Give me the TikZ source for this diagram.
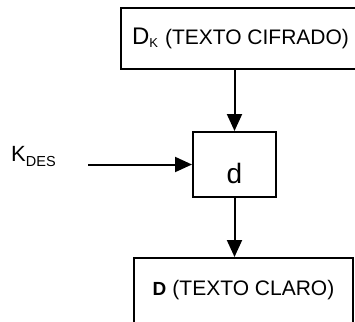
\documentclass[tikz,border=0pt]{standalone}
\usepackage{fontspec}
\setmainfont{Liberation Sans}
\usetikzlibrary{arrows.meta}
\tikzset{
  boxstyle/.style={draw, line width=2pt, inner sep=0pt, align=center},
  flowarrow/.style={line width=2pt, -{Triangle[length=17pt,width=15pt]}}
}
\begin{document}
\begin{tikzpicture}[x=1pt,y=-1pt]
\clip (0,0) rectangle (355,321);
\useasboundingbox (0,0) rectangle (355,321);
\node[boxstyle, minimum width=239pt, minimum height=61pt] (dk) at (240.5,38.5)
  {{\fontsize{24}{24}\selectfont D}\raisebox{-3pt}{\fontsize{13}{13}\selectfont K}\hspace{7pt}{\fontsize{21}{21}\selectfont (TEXTO CIFRADO)}};
\node[boxstyle, minimum width=83pt, minimum height=65pt] (d) at (234.5,164.5)
  {\raisebox{-18.5pt}[0pt][0pt]{\fontsize{28}{28}\selectfont d}};
\node[boxstyle, minimum width=219pt, minimum height=65pt] (dc) at (243.5,290.5)
  {{\fontsize{19}{19}\selectfont\bfseries D}\hspace{6pt}{\fontsize{21}{21}\selectfont (TEXTO CLARO)}};
\node[anchor=base west, inner sep=0pt] (kdes) at (11,161)
  {\fontsize{22}{22}\selectfont K\raisebox{-5pt}{\fontsize{14.5}{14.5}\selectfont DES}};
\coordinate (kstart) at (88,164.5);
\draw[flowarrow] (kstart) -- (d.west);
\draw[flowarrow] (dk.south -| d.north) -- (d.north);
\draw[flowarrow] (d.south) -- (dc.north -| d.south);
\end{tikzpicture}
\end{document}
